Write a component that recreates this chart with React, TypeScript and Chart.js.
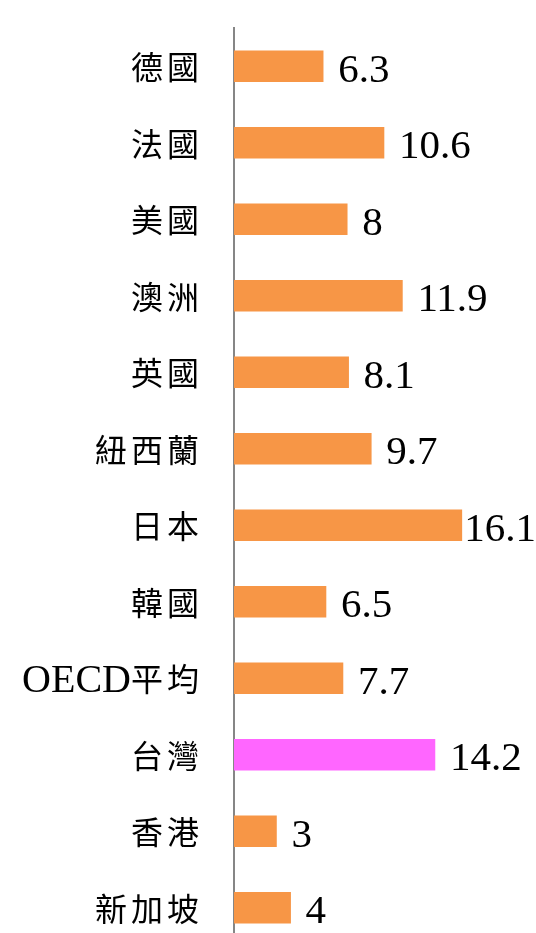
import React, { useEffect, useRef } from "react";
import { Chart, registerables } from "chart.js";

Chart.register(...registerables);

const categories = ["德國", "法國", "美國", "澳洲", "英國", "紐西蘭", "日本", "韓國", "OECD平均", "台灣", "香港", "新加坡"];
const values = [6.3, 10.6, 8, 11.9, 8.1, 9.7, 16.1, 6.5, 7.7, 14.2, 3, 4];
const highlight = "台灣";

const ORANGE = "#F79646";
const MAGENTA = "#FF66FF";

const CJK_FONT = '32px "Noto Sans CJK TC", serif';
const LATIN_FONT = '40px "Liberation Serif", serif';
const CJK_GAP = 4;

const isCJK = (ch: string) => ch.charCodeAt(0) > 0x2e80;

const labelPlugin = {
  id: "customLabels",
  afterDraw(chart: any) {
    const ctx = chart.ctx;
    const yScale = chart.scales.y;
    const meta = chart.getDatasetMeta(0);
    ctx.save();
    ctx.fillStyle = "#000";
    ctx.textAlign = "left";
    ctx.textBaseline = "alphabetic";
    // category labels, right-aligned at x=199
    categories.forEach((c, i) => {
      const y = yScale.getPixelForTick(i);
      const chars = Array.from(c);
      const widths = chars.map((ch) => {
        ctx.font = isCJK(ch) ? CJK_FONT : LATIN_FONT;
        return ctx.measureText(ch).width;
      });
      let total = 0;
      chars.forEach((ch, k) => {
        total += widths[k];
        if (isCJK(ch) && k < chars.length - 1) total += CJK_GAP;
      });
      let x = 199 - total;
      chars.forEach((ch, k) => {
        ctx.font = isCJK(ch) ? CJK_FONT : LATIN_FONT;
        ctx.fillText(ch, x, y + (isCJK(ch) ? 13 : 14));
        x += widths[k] + (isCJK(ch) ? CJK_GAP : 0);
      });
    });
    // value labels
    ctx.font = '41px "Liberation Serif", serif';
    meta.data.forEach((bar: any, i: number) => {
      const txt = String(values[i]);
      const w = ctx.measureText(txt).width;
      const x = Math.min(bar.x + 15, chart.width - w);
      ctx.fillText(txt, x, bar.y + 15.5);
    });
    ctx.restore();
  },
};

export default function App() {
  const ref = useRef<HTMLCanvasElement>(null);
  useEffect(() => {
    if (!ref.current) return;
    const chart = new Chart(ref.current, {
      type: "bar",
      data: {
        labels: categories,
        datasets: [
          {
            data: values,
            backgroundColor: categories.map((c) => (c === highlight ? MAGENTA : ORANGE)),
            barThickness: 31,
            borderWidth: 0,
          },
        ],
      },
      options: {
        indexAxis: "y",
        animation: false,
        responsive: false,
        events: [],
        layout: { padding: { left: 234, right: 19, top: 28, bottom: 0 } },
        plugins: { legend: { display: false }, tooltip: { enabled: false } },
        scales: {
          x: { display: false, min: 0, max: 20 },
          y: {
            display: true,
            grid: { display: false, drawTicks: false },
            ticks: { display: false },
            border: { display: true, color: "#868686", width: 2 },
            afterFit: (scale: any) => {
              scale.width = 0;
            },
          },
        },
      },
      plugins: [labelPlugin],
    });
    return () => chart.destroy();
  }, []);
  return (
    <div style={{ position: "absolute", left: 0, top: 0, width: 536, height: 946 }}>
      <canvas ref={ref} width={536} height={946} />
    </div>
  );
}
